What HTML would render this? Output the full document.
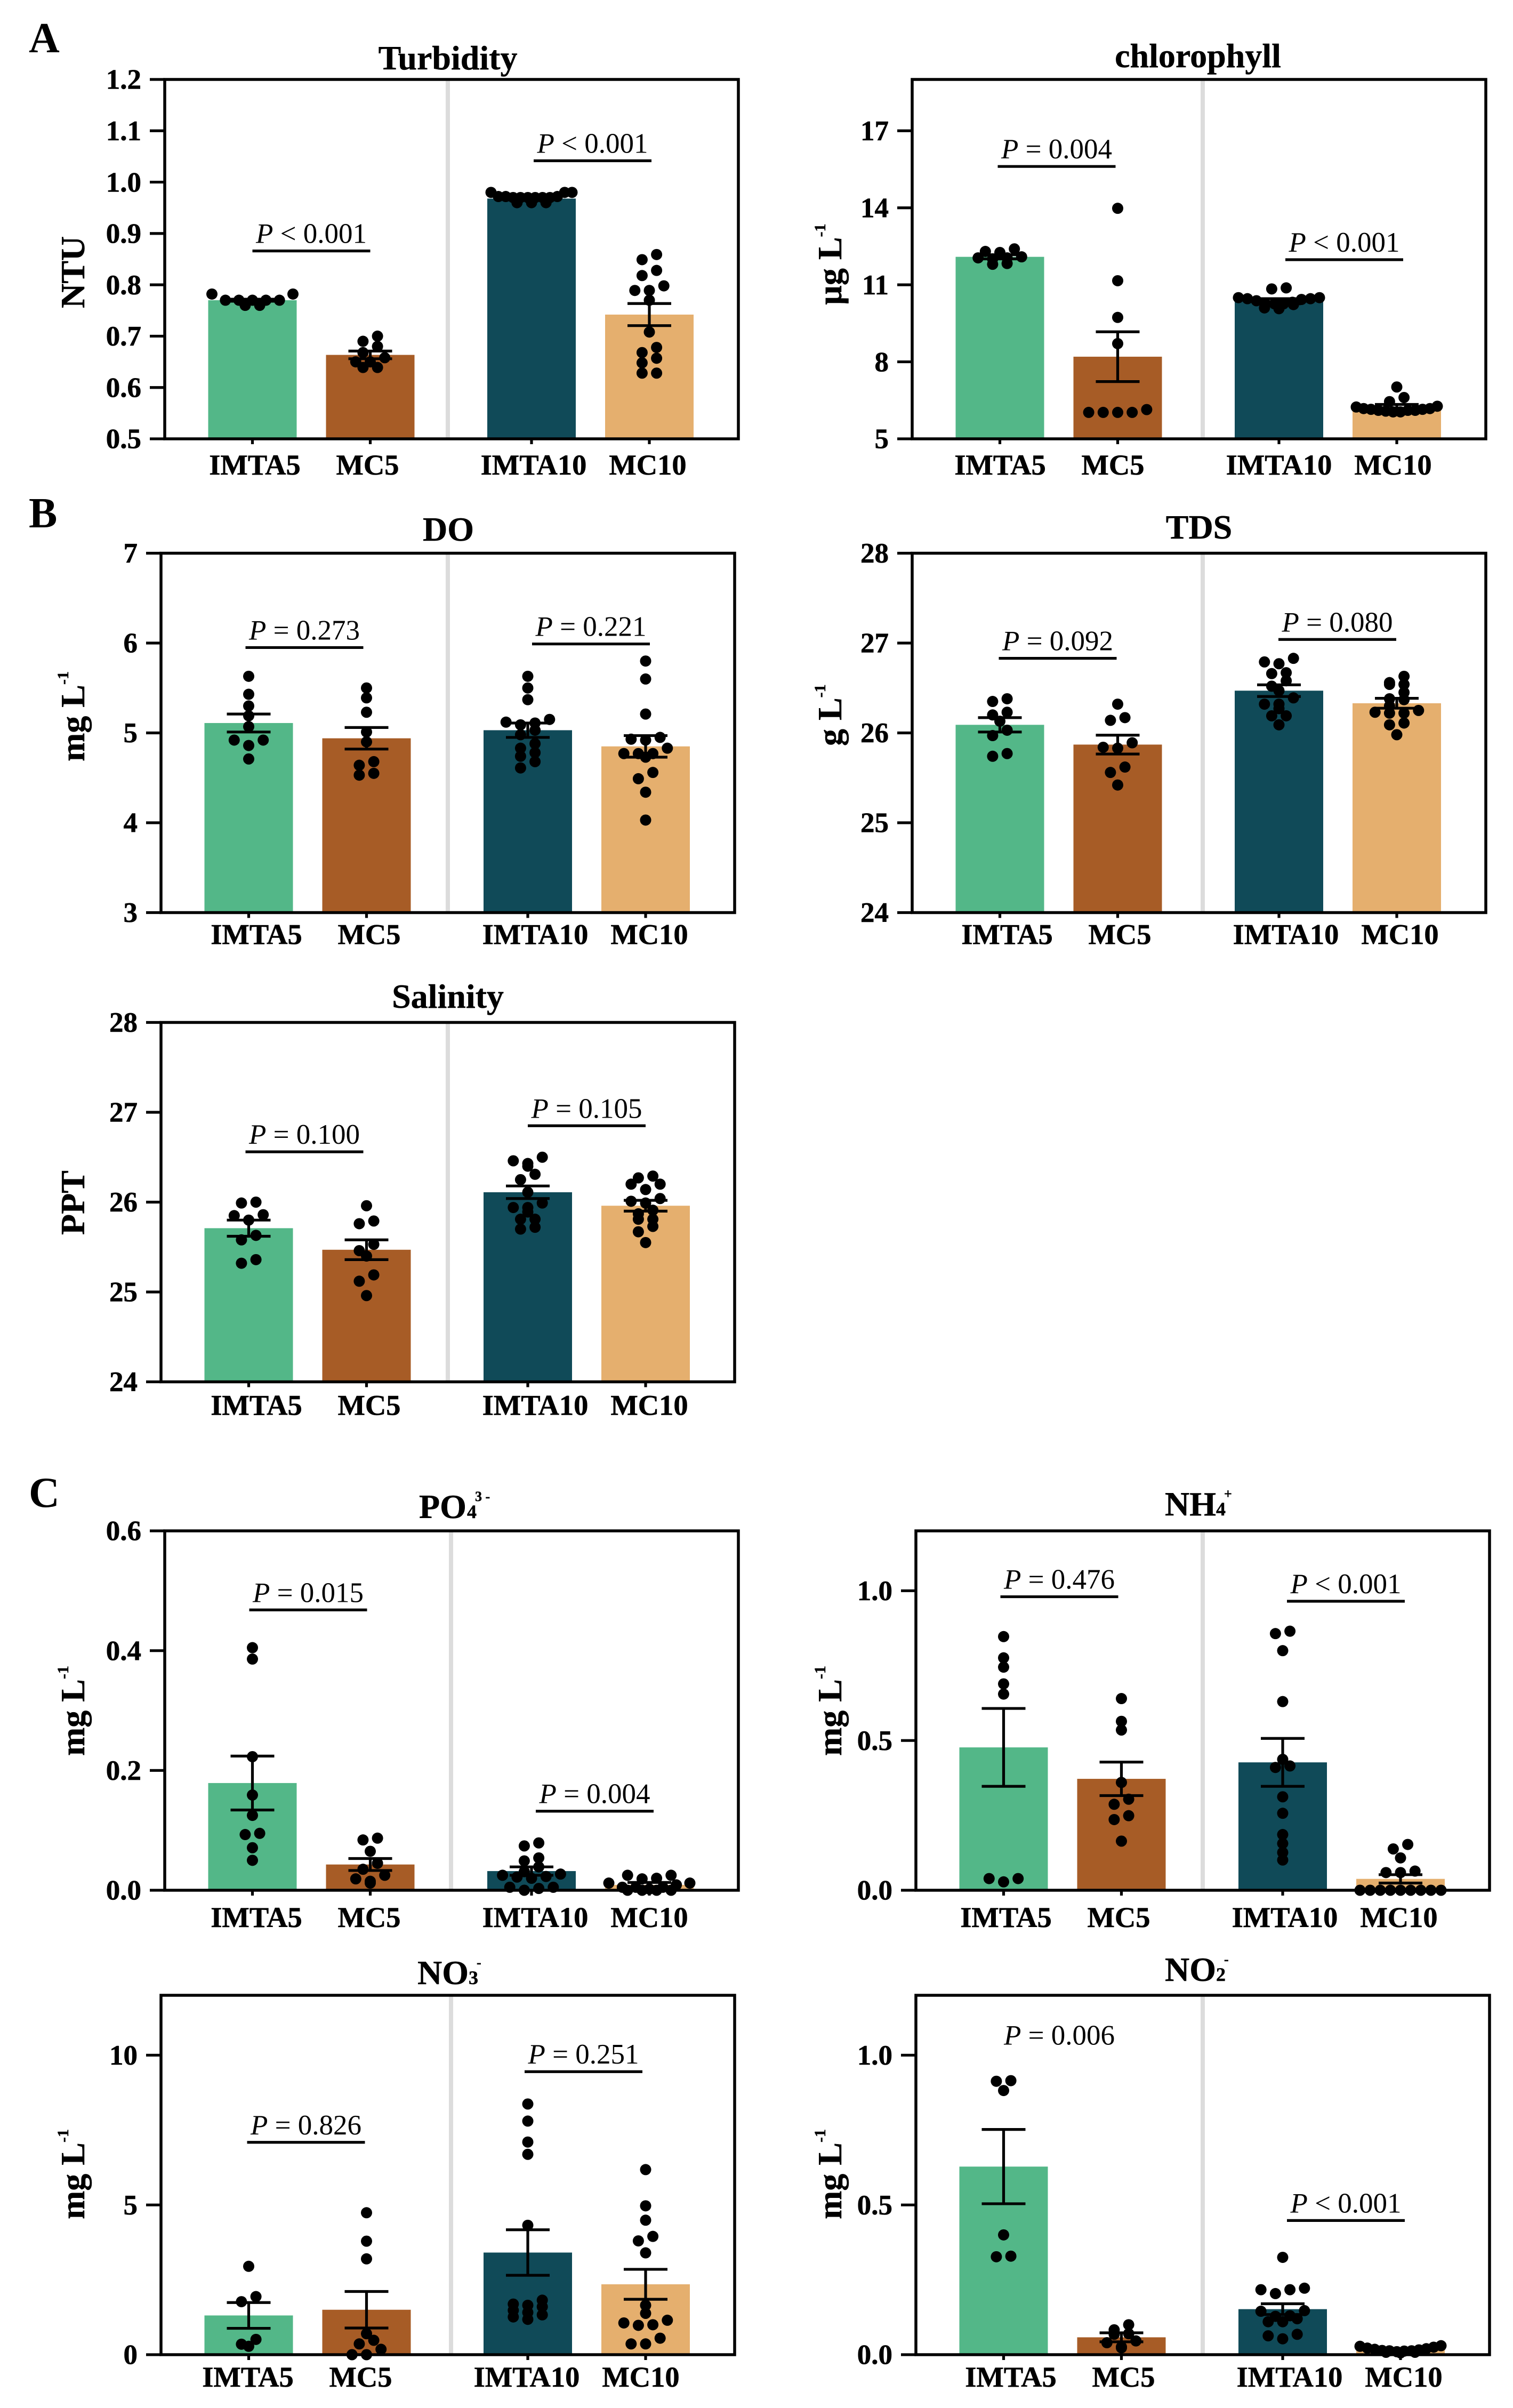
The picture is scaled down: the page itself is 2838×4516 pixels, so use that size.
<!DOCTYPE html>
<html lang="en">
<head>
<meta charset="utf-8">
<title>Water quality bar charts</title>
<style>
  html, body { margin: 0; padding: 0; background: #fff; }
  svg { display: block; font-family: "Liberation Serif", serif; }
  .panel-letter { font-size: 80px; font-weight: bold; }
  .title { font-size: 64px; font-weight: bold; stroke: #000; stroke-width: 0.5px; }
  .title-sub { font-size: 36px; font-weight: bold; }
  .title-sup { font-size: 26px; font-weight: bold; }
  .axis-title { font-size: 64px; font-weight: bold; stroke: #000; stroke-width: 0.5px; }
  .axis-sup { font-size: 30px; font-weight: bold; }
  .tick-label { font-size: 53px; font-weight: bold; stroke: #000; stroke-width: 0.6px; }
  .x-label { font-size: 54.5px; font-weight: bold; stroke: #000; stroke-width: 0.6px; }
  .p-label { font-size: 53px; }
</style>
</head>
<body>
<svg id="figure" xmlns="http://www.w3.org/2000/svg" width="2838" height="4516" viewBox="0 0 2838 4516">
  <rect width="2838" height="4516" fill="#ffffff"/>
  <text class="panel-letter" x="54" y="98">A</text>
  <text class="panel-letter" x="54" y="989">B</text>
  <text class="panel-letter" x="54" y="2826">C</text>

  <text class="title" x="840" y="130" text-anchor="middle">Turbidity</text>
  <text class="title" x="2247" y="126" text-anchor="middle">chlorophyll</text>
  <text class="title" x="841" y="1014" text-anchor="middle">DO</text>
  <text class="title" x="2249" y="1010" text-anchor="middle">TDS</text>
  <text class="title" x="840" y="1890" text-anchor="middle">Salinity</text>
  <text class="title" x="786" y="2847">PO<tspan class="title-sub" x="876" y="2847">4</tspan><tspan class="title-sup" x="891" y="2815">3 -</tspan></text>
  <text class="title" x="2185" y="2842">NH<tspan class="title-sub" x="2281" y="2842">4</tspan><tspan class="title-sup" x="2296" y="2810">+</tspan></text>
  <text class="title" x="783" y="3721">NO<tspan class="title-sub" x="879" y="3721">3</tspan><tspan class="title-sup" x="894" y="3689">-</tspan></text>
  <text class="title" x="2185" y="3715">NO<tspan class="title-sub" x="2281" y="3715">2</tspan><tspan class="title-sup" x="2296" y="3683">-</tspan></text>

  <text class="axis-title" transform="translate(158,578) rotate(-90)" text-anchor="start">NTU</text>
  <text class="axis-title" transform="translate(1578,572) rotate(-90)">µg L<tspan class="axis-sup" dy="-30">-1</tspan></text>
  <text class="axis-title" transform="translate(158,1428) rotate(-90)">mg L<tspan class="axis-sup" dy="-30">-1</tspan></text>
  <text class="axis-title" transform="translate(1578,1399) rotate(-90)">g L<tspan class="axis-sup" dy="-30">-1</tspan></text>
  <text class="axis-title" transform="translate(158,2316) rotate(-90)">PPT</text>
  <text class="axis-title" transform="translate(158,3293) rotate(-90)">mg L<tspan class="axis-sup" dy="-30">-1</tspan></text>
  <text class="axis-title" transform="translate(1578,3293) rotate(-90)">mg L<tspan class="axis-sup" dy="-30">-1</tspan></text>
  <text class="axis-title" transform="translate(158,4162) rotate(-90)">mg L<tspan class="axis-sup" dy="-30">-1</tspan></text>
  <text class="axis-title" transform="translate(1578,4162) rotate(-90)">mg L<tspan class="axis-sup" dy="-30">-1</tspan></text>
</svg>

<script>
const categories = ['IMTA5', 'MC5', 'IMTA10', 'MC10'];

const turbidityTicks = ['0.5', '0.6', '0.7', '0.8', '0.9', '1.0', '1.1', '1.2'];
const turbidityMeans = [0.77, 0.6635, 0.968, 0.742];
const turbiditySem = [0.002, 0.0075, 0.002, 0.0215];
const turbidityImta5 = [0.782, 0.782, 0.77, 0.77, 0.77, 0.77, 0.77, 0.76, 0.76];
const turbidityMc5 = [0.70, 0.69, 0.68, 0.668, 0.658, 0.65, 0.65, 0.639, 0.639];
const turbidityImta10 = [0.98, 0.98, 0.98, 0.972, 0.972, 0.972, 0.97, 0.97, 0.97, 0.97, 0.97, 0.97, 0.96, 0.96, 0.96];
const turbidityMc10 = [0.859, 0.849, 0.828, 0.818, 0.798, 0.789, 0.789, 0.77, 0.708, 0.678, 0.668, 0.657, 0.648, 0.628, 0.628];
const turbidityPLabels = ['< 0.001', '< 0.001'];
const turbidityPLevels = [0.866, 1.0416];

const chlorophyllTicks = ['5', '8', '11', '14', '17'];
const chlorophyllMeans = [12.09, 8.2, 10.36, 6.22];
const chlorophyllSem = [0.08, 0.97, 0.1, 0.12];
const chlorophyllImta5 = [12.4, 12.3, 12.26, 12.09, 12.05, 12.05, 12.01, 11.83, 11.8];
const chlorophyllMc5 = [13.98, 11.16, 9.73, 8.71, 6.14, 6.03, 6.03, 6.03, 6.03];
const chlorophyllImta10 = [10.88, 10.84, 10.5, 10.5, 10.46, 10.46, 10.43, 10.38, 10.32, 10.26, 10.26, 10.26, 10.23, 10.1, 10.07];
const chlorophyllMc10 = [7.02, 6.61, 6.45, 6.27, 6.24, 6.18, 6.18, 6.15, 6.15, 6.11, 6.11, 6.11, 6.08, 6.05, 6.05];
const chlorophyllPLabels = ['= 0.004', '< 0.001'];
const chlorophyllPLevels = [15.61, 11.98];

const doTicks = ['3', '4', '5', '6', '7'];
const doMeans = [5.11, 4.94, 5.03, 4.85];
const doSem = [0.1, 0.12, 0.08, 0.12];
const doImta5 = [5.63, 5.43, 5.3, 5.19, 5.07, 4.92, 4.92, 4.86, 4.71];
const doMc5 = [5.5, 5.39, 5.23, 5.01, 4.9, 4.68, 4.64, 4.55, 4.53];
const doImta10 = [5.63, 5.5, 5.37, 5.15, 5.12, 5.11, 5.09, 5.03, 4.98, 4.88, 4.83, 4.78, 4.74, 4.68, 4.61];
const doMc10 = [5.8, 5.6, 5.21, 4.95, 4.93, 4.92, 4.83, 4.77, 4.77, 4.77, 4.73, 4.56, 4.49, 4.34, 4.03];
const doPLabels = ['= 0.273', '= 0.221'];
const doPLevels = [5.95, 5.99];

const tdsTicks = ['24', '25', '26', '27', '28'];
const tdsMeans = [26.09, 25.87, 26.47, 26.33];
const tdsSem = [0.08, 0.105, 0.065, 0.055];
const tdsImta5 = [26.38, 26.35, 26.23, 26.2, 26.13, 26.03, 25.97, 25.77, 25.74];
const tdsMc5 = [26.32, 26.17, 26.14, 25.89, 25.84, 25.83, 25.62, 25.56, 25.42];
const tdsImta10 = [26.83, 26.79, 26.77, 26.67, 26.66, 26.58, 26.52, 26.47, 26.39, 26.32, 26.32, 26.27, 26.19, 26.19, 26.09];
const tdsMc10 = [26.63, 26.56, 26.54, 26.54, 26.45, 26.38, 26.37, 26.3, 26.25, 26.23, 26.22, 26.22, 26.11, 26.09, 25.98];
const tdsPLabels = ['= 0.092', '= 0.080'];
const tdsPLevels = [26.83, 27.04];

const salinityTicks = ['24', '25', '26', '27', '28'];
const salinityMeans = [25.71, 25.47, 26.11, 25.96];
const salinitySem = [0.09, 0.11, 0.07, 0.06];
const salinityImta5 = [26.0, 25.99, 25.86, 25.85, 25.8, 25.63, 25.58, 25.36, 25.32];
const salinityMc5 = [25.96, 25.79, 25.76, 25.53, 25.46, 25.4, 25.19, 25.12, 24.96];
const salinityImta10 = [26.5, 26.46, 26.43, 26.4, 26.31, 26.25, 26.11, 25.99, 25.94, 25.94, 25.89, 25.81, 25.81, 25.72, 25.7];
const salinityMc10 = [26.29, 26.27, 26.2, 26.2, 26.14, 26.04, 26.01, 25.99, 25.91, 25.87, 25.81, 25.81, 25.73, 25.67, 25.55];
const salinityPLabels = ['= 0.100', '= 0.105'];
const salinityPLevels = [26.56, 26.85];

const po4Ticks = ['0.0', '0.2', '0.4', '0.6'];
const po4Means = [0.179, 0.043, 0.032, 0.009];
const po4Sem = [0.045, 0.01, 0.007, 0.004];
const po4Imta5 = [0.405, 0.386, 0.223, 0.159, 0.125, 0.095, 0.093, 0.071, 0.05];
const po4Mc5 = [0.087, 0.084, 0.065, 0.045, 0.035, 0.025, 0.019, 0.015, 0.012];
const po4Imta10 = [0.079, 0.074, 0.054, 0.049, 0.039, 0.031, 0.027, 0.025, 0.023, 0.022, 0.02, 0.005, 0.005, 0.003, 0.0];
const po4Mc10 = [0.025, 0.025, 0.02, 0.019, 0.012, 0.012, 0.009, 0.005, 0.005, 0.005, 0.002, 0.0, 0.0, 0.0, 0.0];
const po4PLabels = ['= 0.015', '= 0.004'];
const po4PLevels = [0.468, 0.132];

const nh4Ticks = ['0.0', '0.5', '1.0'];
const nh4Means = [0.477, 0.372, 0.427, 0.038];
const nh4Sem = [0.13, 0.056, 0.08, 0.014];
const nh4Imta5 = [0.847, 0.776, 0.745, 0.689, 0.655, 0.039, 0.039, 0.028];
const nh4Mc5 = [0.64, 0.564, 0.535, 0.36, 0.304, 0.287, 0.249, 0.236, 0.164];
const nh4Imta10 = [0.865, 0.857, 0.8, 0.63, 0.437, 0.415, 0.41, 0.312, 0.257, 0.186, 0.156, 0.126, 0.101];
const nh4Mc10 = [0.153, 0.138, 0.108, 0.064, 0.059, 0.059, 0, 0, 0, 0, 0, 0, 0, 0, 0];
const nh4PLabels = ['= 0.476', '< 0.001'];
const nh4PLevels = [0.98, 0.965];

const no3Ticks = ['0', '5', '10'];
const no3Means = [1.31, 1.5, 3.41, 2.35];
const no3Sem = [0.43, 0.61, 0.76, 0.5];
const no3Imta5 = [2.95, 1.94, 1.77, 0.51, 0.35, 0.28];
const no3Mc5 = [4.74, 3.79, 3.2, 0.7, 0.48, 0.36, 0.18, 0, 0];
const no3Imta10 = [8.37, 7.8, 7.1, 6.69, 4.32, 1.82, 1.69, 1.65, 1.6, 1.48, 1.41, 1.33, 1.26, 1.18];
const no3Mc10 = [6.18, 4.97, 4.49, 3.95, 3.8, 3.4, 1.65, 1.38, 1.15, 1.06, 1.0, 0.98, 0.55, 0.36, 0.36];
const no3PLabels = ['= 0.826', '= 0.251'];
const no3PLevels = [7.09, 9.45];

const no2Ticks = ['0.0', '0.5', '1.0'];
const no2Means = [0.628, 0.058, 0.152, 0.016];
const no2Sem = [0.124, 0.015, 0.018, 0.003];
const no2Imta5 = [0.915, 0.913, 0.882, 0.4, 0.329, 0.327];
const no2Mc5 = [0.1, 0.083, 0.07, 0.068, 0.046, 0.04, 0.026, 0.023];
const no2Imta10 = [0.325, 0.222, 0.217, 0.217, 0.204, 0.147, 0.145, 0.13, 0.128, 0.12, 0.11, 0.11, 0.068, 0.063, 0.053];
const no2Mc10 = [0.03, 0.028, 0.025, 0.022, 0.02, 0.018, 0.016, 0.014, 0.013, 0.013, 0.012, 0.01, 0.008, 0.008, 0.006];
const no2PLabels = ['= 0.006', '< 0.001'];
const no2PLevels = [1.009, 0.448];

const NS = 'http://www.w3.org/2000/svg';
const figure = document.getElementById('figure');
const barColors = ['#53b788', '#a75c26', '#104a58', '#e5af6e'];
const barCenters = [164.5, 385.5, 688, 909];
const barWidth = 166;
const labelNudges = [4.5, -5, 4, -3];
const frameW = 1076;
const frameH = 674;
const lineW = 5.5;
const markW = 5.2;

function mk(tag, parent, attrs) {
  const el = document.createElementNS(NS, tag);
  for (const k in attrs) el.setAttribute(k, attrs[k]);
  parent.appendChild(el);
  return el;
}

function yScale(panel) {
  return function (v) {
    return panel.top + frameH - (v - panel.min) / (panel.max - panel.min) * frameH;
  };
}

function xScale(panel) {
  return function (i) {
    return panel.left + barCenters[i];
  };
}

// Prism-style swarm: values close in height share a row, rows are centred on the bar.
function swarmOffsets(values, y) {
  const order = values.map(function (v, i) { return i; }).sort(function (a, b) { return values[b] - values[a]; });
  const offsets = new Array(values.length).fill(0);
  let start = 0;
  while (start < order.length) {
    let end = start + 1;
    while (end < order.length && y(values[order[end]]) - y(values[order[start]]) <= 12) end++;
    const n = end - start;
    const step = n > 1 ? Math.min(27.2, 152 / (n - 1)) : 0;
    let right = (n - 1) / 2;
    let side = 1;
    for (let k = 0; k < n; k++) {
      const slot = side > 0 ? right : -right;
      offsets[order[start + k]] = slot * step;
      if (side < 0) right -= 1;
      side = -side;
    }
    start = end;
  }
  return offsets;
}

function drawPanel(panel) {
  const y = yScale(panel);
  const x = xScale(panel);
  const bottom = panel.top + frameH;

  const group = mk('g', figure, {});
  
  

  const sep = mk('rect', group, { x: panel.left + panel.sep - 4, y: panel.top, width: 8, height: frameH, fill: '#dcdcdc' });
  
  

  categories.forEach(function (cat, i) {
    const bar = mk('rect', group, {
      x: x(i) - barWidth / 2, y: y(panel.means[i]), width: barWidth,
      height: bottom - y(panel.means[i]), fill: barColors[i]
    });
    
    
  });

  const frame = mk('rect', group, { x: panel.left, y: panel.top, width: frameW, height: frameH, fill: 'none', stroke: '#000', 'stroke-width': lineW });
  
  

  panel.ticks.forEach(function (label) {
    const ty = y(parseFloat(label));
    const tick = mk('line', group, { x1: panel.left - 28, x2: panel.left, y1: ty, y2: ty, stroke: '#000', 'stroke-width': markW });
    
    
    const text = mk('text', group, { class: 'tick-label', x: panel.left - 44, y: ty + 17.7, 'text-anchor': 'end' });
    text.textContent = label;
    
    
  });

  categories.forEach(function (cat, i) {
    const tick = mk('line', group, { x1: x(i), x2: x(i), y1: bottom, y2: bottom + 10, stroke: '#000', 'stroke-width': markW });
    
    
    const text = mk('text', group, { class: 'x-label', x: x(i) + panel.labelShift + labelNudges[i], y: bottom + panel.labelDrop, 'text-anchor': 'middle' });
    text.textContent = cat;
    
    
  });

  panel.dots.forEach(function (values, i) {
    const offs = swarmOffsets(values, y);
    values.forEach(function (v, j) {
      const dot = mk('circle', group, { cx: x(i) + offs[j], cy: y(v), r: 10.5, fill: '#000' });
      
      
    });
  });

  categories.forEach(function (cat, i) {
    const hi = y(panel.means[i] + panel.sem[i]);
    const lo = y(panel.means[i] - panel.sem[i]);
    const err = mk('path', group, {
      d: 'M' + (x(i) - 41) + ' ' + hi + 'H' + (x(i) + 41) + 'M' + x(i) + ' ' + hi + 'V' + lo + 'M' + (x(i) - 41) + ' ' + lo + 'H' + (x(i) + 41),
      fill: 'none', stroke: '#000', 'stroke-width': markW
    });
    
    
  });

  [0, 1].forEach(function (k) {
    const a = k === 0 ? 0 : 2;
    const x1 = x(a) + panel.pShift[k];
    const x2 = x(a + 1) + panel.pShift[k];
    const ly = y(panel.pLevels[k]);
    if (!(panel.noLine && panel.noLine[k])) {
      const line = mk('line', group, { x1: x1, x2: x2, y1: ly, y2: ly, stroke: '#000', 'stroke-width': markW });
      
      
    }
    const text = mk('text', group, { class: 'p-label', x: (x1 + x2) / 2, y: ly - 15, 'text-anchor': 'middle' });
    const italic = mk('tspan', text, { 'font-style': 'italic' });
    italic.textContent = 'P';
    text.appendChild(document.createTextNode(' ' + panel.pLabels[k]));
    
    
  });
}

const panels = [
  { name: 'turbidity', left: 309, top: 149, min: 0.5, max: 1.2, sep: 531, labelShift: 0, labelDrop: 67, pShift: [0, 4],
    ticks: turbidityTicks, means: turbidityMeans, sem: turbiditySem, dots: [turbidityImta5, turbidityMc5, turbidityImta10, turbidityMc10], pLabels: turbidityPLabels, pLevels: turbidityPLevels },
  { name: 'chlorophyll', left: 1711, top: 149, min: 5, max: 19, sep: 545, labelShift: -4, labelDrop: 67, pShift: [-4, 12],
    ticks: chlorophyllTicks, means: chlorophyllMeans, sem: chlorophyllSem, dots: [chlorophyllImta5, chlorophyllMc5, chlorophyllImta10, chlorophyllMc10], pLabels: chlorophyllPLabels, pLevels: chlorophyllPLevels },
  { name: 'do', left: 302, top: 1037.5, min: 3, max: 7, sep: 538, labelShift: 10, labelDrop: 59, pShift: [-6, 8],
    ticks: doTicks, means: doMeans, sem: doSem, dots: [doImta5, doMc5, doImta10, doMc10], pLabels: doPLabels, pLevels: doPLevels },
  { name: 'tds', left: 1711, top: 1037.5, min: 24, max: 28, sep: 545, labelShift: 9, labelDrop: 59, pShift: [-2, -1],
    ticks: tdsTicks, means: tdsMeans, sem: tdsSem, dots: [tdsImta5, tdsMc5, tdsImta10, tdsMc10], pLabels: tdsPLabels, pLevels: tdsPLevels },
  { name: 'salinity', left: 302, top: 1917.5, min: 24, max: 28, sep: 538, labelShift: 10, labelDrop: 62, pShift: [-6, 0],
    ticks: salinityTicks, means: salinityMeans, sem: salinitySem, dots: [salinityImta5, salinityMc5, salinityImta10, salinityMc10], pLabels: salinityPLabels, pLevels: salinityPLevels },
  { name: 'po4', left: 309, top: 2871, min: 0, max: 0.6, sep: 537, labelShift: 3, labelDrop: 69, pShift: [-6, 8],
    ticks: po4Ticks, means: po4Means, sem: po4Sem, dots: [po4Imta5, po4Mc5, po4Imta10, po4Mc10], pLabels: po4PLabels, pLevels: po4PLevels },
  { name: 'nh4', left: 1718, top: 2871, min: 0, max: 1.2, sep: 538, labelShift: 0, labelDrop: 69, pShift: [-6, 8],
    ticks: nh4Ticks, means: nh4Means, sem: nh4Sem, dots: [nh4Imta5, nh4Mc5, nh4Imta10, nh4Mc10], pLabels: nh4PLabels, pLevels: nh4PLevels },
  { name: 'no3', left: 302, top: 3742, min: 0, max: 12, sep: 544, labelShift: -6, labelDrop: 60, pShift: [-3, -6],
    ticks: no3Ticks, means: no3Means, sem: no3Sem, dots: [no3Imta5, no3Mc5, no3Imta10, no3Mc10], pLabels: no3PLabels, pLevels: no3PLevels },
  { name: 'no2', left: 1718, top: 3742, min: 0, max: 1.2, sep: 538, labelShift: 9, labelDrop: 60, pShift: [-6, 8], noLine: [true, false],
    ticks: no2Ticks, means: no2Means, sem: no2Sem, dots: [no2Imta5, no2Mc5, no2Imta10, no2Mc10], pLabels: no2PLabels, pLevels: no2PLevels }
];

panels.forEach(drawPanel);
</script>
</body>
</html>
